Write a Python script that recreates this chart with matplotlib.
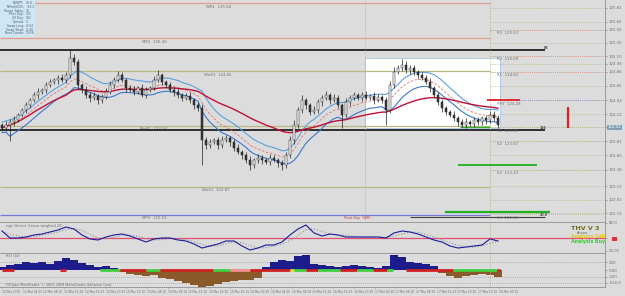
import numpy as np
import pandas as pd
import matplotlib.pyplot as plt
from matplotlib.patches import Rectangle

# price bars (EURJPY-like), one every bar index
closes = [124.01, 124.06, 124.10, 124.13, 124.21, 124.28, 124.36, 124.43, 124.51, 124.56,
          124.59, 124.66, 124.71, 124.74, 124.77, 124.74, 124.81, 125.07, 125.01, 124.66,
          124.59, 124.51, 124.47, 124.50, 124.43, 124.48, 124.56, 124.66, 124.74, 124.81,
          124.74, 124.62, 124.59, 124.56, 124.62, 124.51, 124.59, 124.62, 124.74, 124.81,
          124.71, 124.66, 124.59, 124.56, 124.51, 124.47, 124.50, 124.43, 124.36, 124.31,
          123.83, 123.75, 123.80, 123.83, 123.75, 123.83, 123.86, 123.80, 123.71, 123.65,
          123.60, 123.53, 123.45, 123.53, 123.56, 123.53, 123.50, 123.56, 123.53, 123.48,
          123.45, 123.60, 123.83, 124.06, 124.28, 124.43, 124.36, 124.25, 124.28, 124.40,
          124.47, 124.51, 124.43, 124.47, 124.36, 124.21, 124.40, 124.47, 124.51, 124.47,
          124.51, 124.47, 124.50, 124.43, 124.48, 124.43, 124.28, 124.66, 124.86, 124.92,
          124.97, 124.89, 124.92, 124.86, 124.81, 124.77, 124.71, 124.62, 124.51, 124.40,
          124.31, 124.25, 124.21, 124.16, 124.10, 124.06, 124.10, 124.07, 124.13, 124.10,
          124.16, 124.13, 124.21, 124.16, 124.06]
first_open = 124.05
wick_up = [3, 5, 4, 6, 3, 4, 5, 3, 4, 6, 3, 4, 5, 3, 4, 6, 5, 12, 6, 4,
           3, 5, 4, 6, 3, 4, 5, 6, 4, 7, 5, 3, 4, 6, 3, 5, 4, 3, 6, 8,
           4, 3, 5, 4, 6, 3, 4, 5, 3, 4, 6, 4, 5, 3, 4, 6, 5, 3, 4, 5,
           3, 4, 6, 3, 5, 4, 3, 5, 4, 3, 4, 5, 6, 7, 5, 8, 4, 3, 6, 5,
           4, 6, 3, 5, 4, 3, 6, 4, 5, 3, 4, 6, 3, 5, 4, 3, 5, 6, 7, 4,
           9, 6, 5, 4, 3, 5, 4, 6, 3, 4, 5, 3, 4, 5, 3, 4, 6, 3, 5, 4,
           3, 4, 5, 6, 4]
wick_dn = [5, 4, 25, 6, 3, 4, 5, 4, 3, 6, 4, 5, 3, 4, 6, 3, 5, 4, 4, 6,
           5, 4, 6, 3, 5, 4, 3, 4, 5, 3, 4, 6, 3, 5, 4, 3, 5, 4, 3, 4,
           5, 4, 3, 6, 4, 5, 3, 4, 6, 5, 38, 6, 5, 4, 6, 5, 4, 6, 5, 4,
           6, 5, 8, 4, 5, 6, 4, 5, 4, 6, 8, 5, 4, 6, 5, 4, 6, 5, 3, 4,
           5, 4, 6, 3, 5, 20, 4, 5, 3, 4, 5, 3, 4, 6, 3, 4, 23, 5, 4, 3,
           4, 5, 6, 4, 5, 3, 4, 6, 5, 4, 6, 5, 4, 5, 6, 4, 5, 3, 4, 5,
           4, 6, 5, 4, 5]

# oscillator (every 2nd bar)
osc = [64, 50, 50, 52, 56, 58, 62, 66, 72, 68, 56, 48, 46, 52, 56, 58, 54, 48, 42, 48,
       50, 50, 46, 44, 38, 30, 34, 38, 44, 44, 34, 26, 30, 36, 36, 42, 56, 68, 76, 60,
       54, 58, 56, 52, 52, 52, 52, 52, 50, 60, 64, 62, 58, 52, 46, 42, 34, 30, 32, 34,
       36, 48, 44]
# histogram (every 2nd bar)
hist = [60, 100, 120, 160, 140, 160, 120, 180, 240, 200, 140, 100, 60, 80, 40, -40, -80, -100, -120, -100,
        -160, -180, -220, -260, -300, -330, -320, -280, -240, -220, -200, -200, -160, 60, 160, 200, 180, 280, 300, 120,
        100, 80, 60, 80, 100, 80, 60, 40, 80, 300, 260, 160, 140, 120, 80, -60, -120, -160, -120, -100,
        -80, -100, -140]
strip = [(0, 3, 'r'), (14.5, 16, 'r'), (24.5, 29.5, 'g'), (29.5, 36, 'r'), (36, 39.5, 'g'),
         (39.5, 52.7, 'r'), (52.7, 57, 'g'), (57, 62, 'p'), (62, 72, 'r'), (72, 73, 'y'),
         (73, 76, 'g'), (76, 79, 'r'), (79, 84.5, 'g'), (84.5, 88.7, 'r'), (88.7, 92.7, 'g'),
         (92.7, 96.2, 'r'), (96.2, 97.7, 'g'), (101, 111, 'r'), (111, 112.7, 'r'),
         (112.7, 123.7, 'g'), (123.7, 124.5, 'r')]

# pivot levels on the left part
lvl_names = ["WR1", "MR1", "WnR1", "MnR1", "WnS1", "MPV"]
lvl_text = ["125.58", "125.40", "124.65", "123.97", "122.87", "122.53"]
lvl_price = [125.90, 125.37, 124.87, 124.04, 123.12, 122.69]
lvl_color = ['#e0a090', '#e0a090', '#b8b880', '#b8b880', '#b8b880', '#7878d8']
lvl_label_x = [51, 35, 50.5, 34.5, 50, 35]
# daily pivots
day_names = ["R3", "R2", "R1", "PPV", "S1", "S2", "S3", "S4"]
day_text = ["125.53", "125.09", "124.62", "124.28", "123.83", "123.67", "123.23", "122.52"]
day_price = [125.50, 125.10, 124.86, 124.43, 124.02, 123.81, 123.38, 122.70]
day_color = ['#e09090', '#e09090', '#e09090', '#8080e0', '#b8b880', '#b8b880', '#b8b880', '#b8b880']
grid_prices = [125.83, 125.62, 125.50, 125.30, 125.10, 124.98, 124.86, 124.65,
               124.43, 124.22, 124.03, 123.81, 123.60, 123.38, 123.13, 122.92, 122.72]

date_labels = ["12 Mar 2010", "12 Mar 04:10", "12 Mar 08:10", "12 Mar 12:10", "12 Mar 16:10",
               "12 Mar 20:10", "15 Mar 00:10", "15 Mar 04:10", "15 Mar 08:10", "15 Mar 12:10",
               "15 Mar 16:10", "15 Mar 20:10", "16 Mar 00:10", "16 Mar 04:10", "16 Mar 08:10",
               "16 Mar 12:10", "16 Mar 16:10", "16 Mar 20:10", "17 Mar 00:10", "17 Mar 04:10",
               "17 Mar 08:10", "17 Mar 12:10", "17 Mar 16:10", "17 Mar 20:10", "18 Mar 00:10"]

info_keys = ["EURJPY:", "TaProfit(20):", "Range Today:", "Prior Day:", "20 Day:",
             "Spread:", "Swap Long:", "Swap Short:", "Next Candle:"]
info_vals = ["16.8", "~13.3", "36", "133", "162", "3", "-0.64", "-0.40", "13:58"]

BG = '#dcdcdc'
W, H = 625, 296
XL = (-0.5, 150.75)

fig = plt.figure(figsize=(6.25, 2.96), dpi=100, facecolor=BG)
ax = fig.add_axes([0, 1 - 221 / H, 605 / W, 221 / H])
ax2 = fig.add_axes([0, 1 - 252 / H, 605 / W, 30 / H])
ax3 = fig.add_axes([0, 1 - 287 / H, 605 / W, 34 / H])

for a in (ax, ax2, ax3):
    a.set_facecolor(BG)
    a.set_xlim(*XL)
    for s in a.spines.values():
        s.set_visible(False)
    a.spines['right'].set_visible(True)
    a.spines['right'].set_color('#909090')
    a.spines['right'].set_linewidth(0.6)
    a.spines['top'].set_visible(True)
    a.spines['top'].set_color('#909090')
    a.spines['top'].set_linewidth(0.6)
    a.yaxis.tick_right()
    a.tick_params(axis='y', labelsize=2.8, colors='#707070', length=1.5, width=0.4, pad=1)
    a.tick_params(axis='x', bottom=False, labelbottom=False)
ax.spines['top'].set_visible(False)

ax.set_ylim(122.60, 125.95)
ax.set_yticks(grid_prices)
ax.set_yticklabels([f"{p:.2f}" for p in grid_prices])

# ---- main panel ----
n = len(closes)
idx = np.arange(n)
opens = [first_open] + closes[:-1]
highs = [max(o, c) + u * 0.01 for o, c, u in zip(opens, closes, wick_up)]
lows = [min(o, c) - d * 0.01 for o, c, d in zip(opens, closes, wick_dn)]

# white box of the previous session
ax.add_patch(Rectangle((90.75, 124.01), 33.75, 1.06, facecolor='white',
                       edgecolor='#a8c8e8', lw=0.6, zorder=0))

for p, c in zip(lvl_price, lvl_color):
    ax.hlines(p, -0.5, 122, color=c, lw=0.9, zorder=1)
for nm, t, p, x in zip(lvl_names, lvl_text, lvl_price, lvl_label_x):
    ax.text(x, p - 0.02, f"{nm}  {t}", fontsize=2.8, color='#707070', va='top', zorder=2)

# black S/R lines
ax.hlines([125.19, 123.98], -0.5, 135.75, color='black', lw=1.1, zorder=2)
ax.text(135.5, 125.21, "88", fontsize=2.6, color='black')
ax.text(134.5, 124.00, "116", fontsize=2.6, color='black')
ax.hlines(122.66, 102, 135.75, color='#404040', lw=0.8)
ax.text(134.5, 122.67, "20.0", fontsize=2.6, color='black')
ax.text(85.5, 122.63, "Pivot Day  (WR)", fontsize=2.4, color='#d03030')

# right side dotted lines
ax.hlines(grid_prices, 122, XL[1], color='#b8b880', lw=0.6, linestyles=(0, (1, 1.5)))
for nm, t, p, c in zip(day_names, day_text, day_price, day_color):
    ax.hlines(p, 122, XL[1], color=c, lw=0.6, linestyles=(0, (1, 1.5)))
    ax.text(123.8, p - 0.02, f"{nm}  {t}", fontsize=2.8, color='#707070', va='top')
ax.vlines([90.75, 122], 122.60, 125.95, color='#b0b080', lw=0.6, linestyles=(0, (1, 1.5)))

# extra marks on the right
ax.hlines(123.45, 114, 133.75, color='#20b020', lw=1.3)
ax.hlines(122.74, 110.75, 137, color='#20b020', lw=1.6)
ax.hlines(124.02, 114.5, 122, color='#30b030', lw=0.9)
ax.hlines(124.43, 121.25, 129.5, color='#e02020', lw=1.3)
ax.vlines(141.5, 124.01, 124.33, color='#e02020', lw=1.6)

# moving averages
cs = pd.Series(closes)
ema_h = pd.Series(highs).ewm(span=12).mean()
ema_l = pd.Series(lows).ewm(span=12).mean()
ema_c = cs.ewm(span=12).mean()
slow = cs.ewm(span=45).mean()
ax.plot(idx, ema_h + 0.02, color='#5aa0e0', lw=0.8, zorder=3)
ax.plot(idx, ema_l - 0.02, color='#3a78d0', lw=0.8, zorder=3)
ax.plot(idx, ema_c, color='#e07070', lw=0.6, ls=(0, (3, 2)), zorder=3)
ax.plot(idx, slow, color='#c0103a', lw=1.0, zorder=3)

# candles
for i in range(n):
    o, c = opens[i], closes[i]
    ax.vlines(i, lows[i], highs[i], color='#202020', lw=0.5, zorder=4)
    bull = c >= o
    ax.add_patch(Rectangle((i - 0.32, min(o, c)), 0.64, max(abs(c - o), 0.006),
                           facecolor='white' if bull else '#3a3a3a',
                           edgecolor='#202020', lw=0.35, zorder=5))

# current price tag
ax.text(1.004, (124.02 - 122.60) / 3.35, "124.02", transform=ax.transAxes, fontsize=2.8,
        color='white', va='center', ha='left',
        bbox=dict(boxstyle='square,pad=0.15', fc='#7fa0b8', ec='none'))

# info box
fig.patches.append(Rectangle((0, 1 - 37 / H), 35 / W, 37 / H, transform=fig.transFigure,
                             facecolor='#cfe6f6', edgecolor='none', zorder=10))
for k, (key, val) in enumerate(zip(info_keys, info_vals)):
    y = 1 - (3 + k * 3.8) / H
    fig.text(24 / W, y, key, fontsize=2.2, ha='right', va='center', color='#506070', zorder=11)
    fig.text(25.5 / W, y, val, fontsize=2.2, ha='left', va='center', color='#506070', zorder=11)

# ---- oscillator panel ----
ax2.set_ylim(22, 82)
ax2.set_yticks([80, 50, 25])
ax2.set_yticklabels(["80.0", "", "23.01"])
oi = np.arange(len(osc)) * 2
ax2.axhline(50, color='#e05070', lw=0.9)
ax2.plot(oi, pd.Series(osc).rolling(3, min_periods=1).mean(), color='#909090', lw=0.8, ls=':')
ax2.plot(oi, osc, color='#1a1aa0', lw=0.8)
ax2.text(1, 79, "rsgt (Green) (Linear weighted 20)", fontsize=2.4, color='#707070', va='top')
ax2.vlines(122, 22, 82, color='#b0b080', lw=0.6, linestyles=(0, (1, 1.5)))

fig.text(585 / W, 1 - 228.5 / H, "THV V 3", fontsize=4.6, weight='bold', color='#707020', ha='center', va='center')
fig.text(583 / W, 1 - 233 / H, "Arrows", fontsize=2.4, color='#707070', ha='center', va='center')
fig.text(588 / W, 1 - 236.8 / H, "Analysis Sell", fontsize=3.4, weight='bold', color='#e8c800', ha='center', va='center')
fig.text(588 / W, 1 - 241.5 / H, "Analysis Buy", fontsize=3.4, weight='bold', color='#30d030', ha='center', va='center')
fig.patches.append(Rectangle((612 / W, 1 - 241 / H), 5 / W, 4 / H, transform=fig.transFigure,
                             facecolor='#e03040', edgecolor='none'))

# ---- histogram panel ----
ax3.set_ylim(-340, 340)
ax3.set_yticks([160, 0, -140, -260])
ax3.set_yticklabels(["200", "0.00", "-200", "-414.0"])
hi = np.arange(len(hist)) * 2
hv = np.array(hist)
ax3.bar(hi, hv, width=2.0, color=np.where(hv > 0, '#1c1c8c', '#8b5a2b'), zorder=2)
ax3.hlines([160, -140, -260], -0.5, XL[1], color='#a0a0a0', lw=0.6, linestyles=(0, (1, 1.5)), zorder=1)
scol = {'r': '#d02020', 'g': '#40d040', 'p': '#f09090', 'y': '#e8e020'}
for a0, a1, c in strip:
    ax3.hlines(0, a0, a1, color=scol[c], lw=2.0, zorder=3)
ax3.text(1, 320, "RSI (14)", fontsize=2.4, color='#707070', va='top')
ax3.text(1, -300, "FXOpen MetaTrader, \u00a9 2001-2009 MetaQuotes Software Corp.",
         fontsize=2.4, color='#707070', va='center')
ax3.vlines(122, -340, 340, color='#b0b080', lw=0.6, linestyles=(0, (1, 1.5)))

ax3.tick_params(axis='x', bottom=True, labelbottom=True, labelsize=2.1, colors='#707070',
                length=1, width=0.4, pad=1)
ax3.set_xticks(np.arange(len(date_labels)) * 5.175)
ax3.set_xticklabels(date_labels, ha='left')
ax3.spines['bottom'].set_visible(True)
ax3.spines['bottom'].set_color('#909090')
ax3.spines['bottom'].set_linewidth(0.6)

fig.savefig("out.png", dpi=100, facecolor=BG)
